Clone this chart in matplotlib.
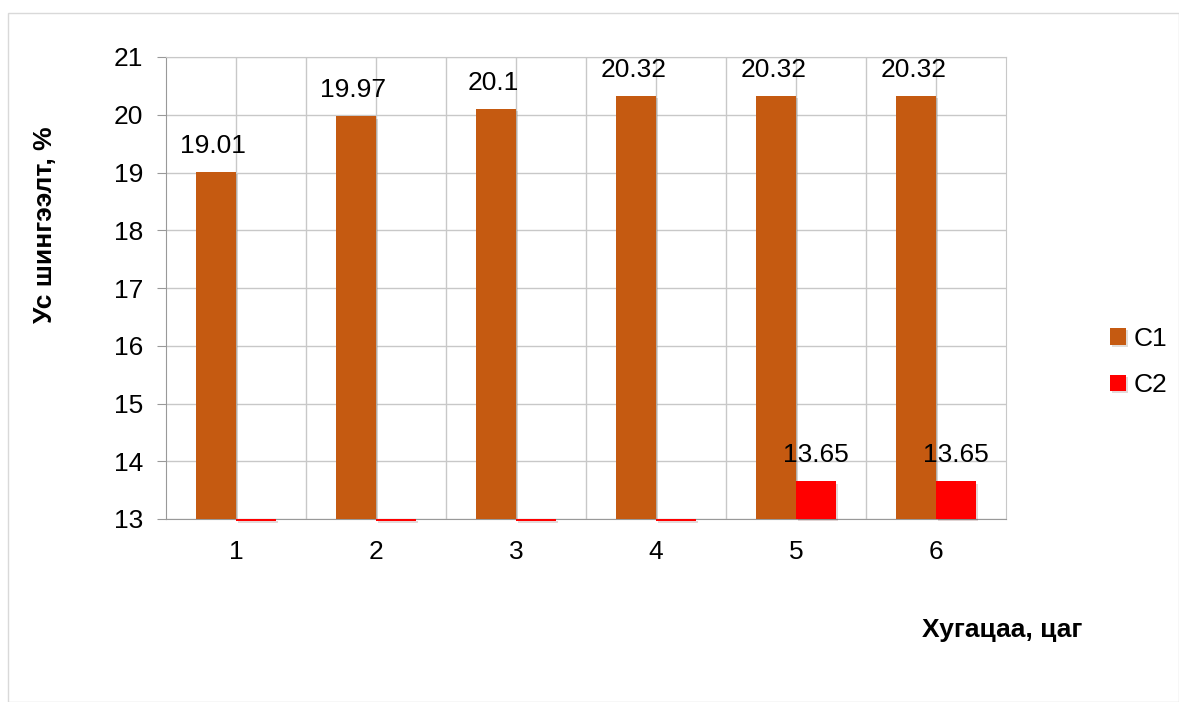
import matplotlib.pyplot as plt
import matplotlib.patheffects as pe
import numpy as np

plt.rcParams['font.family'] = ['Liberation Sans', 'DejaVu Sans']

hours = ["1", "2", "3", "4", "5", "6"]
c1 = [19.01, 19.97, 20.1, 20.32, 20.32, 20.32]
c2 = [0, 0, 0, 0, 13.65, 13.65]
y_min, y_max = 13, 21
fs = 19


def main():
    fig = plt.figure(figsize=(11.79, 7.02), dpi=100)
    # outer chart border
    fig.patches.append(plt.Rectangle((8 / 1179, 0), 1 - 8 / 1179, 1 - 13 / 702,
                                     transform=fig.transFigure, fill=False,
                                     edgecolor="#d9d9d9", linewidth=1))
    ax = fig.add_axes([166 / 1179, 1 - 519 / 702, 840 / 1179, 462 / 702])

    x = np.arange(len(hours))
    w = 0.2857
    shadow = [pe.SimplePatchShadow(offset=(1.5, -1.5), alpha=0.15), pe.Normal()]

    b1 = ax.bar(x - w / 2, c1, w, color="#c55a11", label="C1", zorder=3,
                path_effects=shadow)
    # values under the axis minimum show as a thin line at the base
    c2_draw = [v if v > y_min else y_min - 0.04 for v in c2]
    b2 = ax.bar(x + w / 2, np.array(c2_draw) - y_min, w, bottom=y_min,
                color="#ff0000", label="C2", zorder=3, clip_on=False,
                path_effects=shadow)

    for xi, v in zip(x, c1):
        ax.annotate(f"{v:g}", (xi - w / 2, v), xytext=(-2, 19),
                    textcoords="offset points", ha="center", va="center",
                    fontsize=fs)
    for xi, v in zip(x, c2):
        if v > y_min:
            ax.annotate(f"{v:g}", (xi + w / 2, v), xytext=(0, 19),
                        textcoords="offset points", ha="center",
                        va="center", fontsize=fs, zorder=4)

    ax.set_xlim(-0.5, len(hours) - 0.5)
    ax.set_ylim(y_min, y_max)
    ax.set_yticks(range(y_min, y_max + 1))
    ax.set_xticks(x)
    ax.set_xticklabels(hours)
    ax.set_xticks(x[:-1] + 0.5, minor=True)
    ax.grid(True, which="both", color="#c8c8c8", linewidth=1, zorder=0)
    ax.set_axisbelow(True)
    for s in ["top", "right"]:
        ax.spines[s].set_color("#c8c8c8")
    for s in ["left", "bottom"]:
        ax.spines[s].set_color("#999999")
    ax.tick_params(axis="y", length=6.5, color="#999999", labelsize=fs,
                   pad=10)
    ax.tick_params(axis="x", which="both", length=0, labelsize=fs, pad=15)

    fig.text(45 / 1179, 1 - 225 / 702, "Ус шингээлт, %", rotation=90,
             ha="center", va="center", fontsize=fs, fontweight="bold")
    fig.text(1002 / 1179, 1 - 630 / 702, "Хугацаа, цаг", ha="center",
             va="center", fontsize=fs, fontweight="bold")

    fig.legend(handles=[b1, b2], labels=["C1", "C2"], loc="center left",
               bbox_to_anchor=(1110 / 1179, 1 - 362 / 702), frameon=False,
               fontsize=fs, handlelength=0.6, handleheight=0.6,
               handletextpad=0.3, labelspacing=0.85, borderpad=0,
               borderaxespad=0)

    fig.savefig("out.png", dpi=100)


main()
